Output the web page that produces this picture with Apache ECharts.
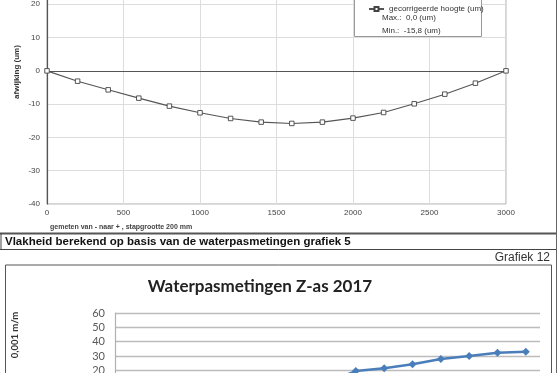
<!DOCTYPE html>
<html>
<head>
<meta charset="utf-8">
<script src="https://cdn.jsdelivr.net/npm/echarts@6/dist/echarts.min.js"></script>
<style>
html,body{margin:0;padding:0;background:#fff;overflow:hidden;width:560px;height:373px;position:relative}
#main{position:absolute;left:0;top:-40px;width:560px;height:480px}
</style>
</head>
<body>
<div id="main"></div>
<script>
// grafiek 5: gecorrigeerde hoogte, stap 200 mm
var posities = [0,200,400,600,800,1000,1200,1400,1600,1800,2000,2200,2400,2600,2800,3000];
var hoogte = [0,-3.1,-5.7,-8.2,-10.6,-12.6,-14.3,-15.4,-15.8,-15.4,-14.2,-12.5,-9.9,-7.0,-3.7,0.0];

// grafiek 12: waterpasmetingen Z-as 2017 (onderste deel valt buiten beeld)
var metingen = ['1','2','3','4','5','6','7','8','9','10','11','12','13','14','15'];
var zAs = [0,2,4,5,7,8,10,12,19.5,21.4,24.2,27.9,30,32.2,33];

var arial = 'Liberation Sans, Arial, sans-serif';
var calibri = 'Lato, Open Sans, sans-serif';
var OY = 40; // de grafiek begint 40px boven het beeld

var lijn5 = [];
for (var i = 0; i < posities.length; i++) {
	lijn5.push([posities[i], hoogte[i]]);
}

var myChart = echarts.init(document.getElementById('main'));
var option = {
	animation: false,
	backgroundColor: '#fff',
	grid: [
		{left: 47, right: 54, top: 11, bottom: 236, show: true, borderColor: '#aaa', borderWidth: 1},
		{left: 115, right: 20, top: 353, bottom: 41}
	],
	legend: {
		data: ['gecorrigeerde hoogte (um)'],
		left: 363, top: OY,
		itemWidth: 15, itemHeight: 5,
		textStyle: {fontSize: 8, color: '#333', fontFamily: arial},
		z: 6
	},
	xAxis: [
		{
			type: 'value', gridIndex: 0, min: 0, max: 3000, interval: 500,
			axisLine: {onZero: true, lineStyle: {color: '#555', width: 1.2}},
			axisTick: {show: false},
			axisLabel: {fontSize: 8, color: '#444', margin: 5, fontFamily: arial,
				formatter: function (v) { return String(v); }},
			splitLine: {show: true, lineStyle: {color: '#ddd'}}
		},
		{
			type: 'category', gridIndex: 1, data: metingen, boundaryGap: true,
			axisLine: {show: false}, axisTick: {show: false}, axisLabel: {show: false}
		}
	],
	yAxis: [
		{
			type: 'value', gridIndex: 0, min: -40, max: 30, interval: 10,
			axisLine: {show: true, onZero: false, lineStyle: {color: '#555', width: 1.2}},
			axisTick: {show: false},
			axisLabel: {fontSize: 8, color: '#444', margin: 7, fontFamily: arial},
			splitLine: {lineStyle: {color: '#ddd'}}
		},
		{
			type: 'value', gridIndex: 1, min: 0, max: 60, interval: 10,
			axisLine: {show: true, lineStyle: {color: '#b0b0b0', width: 1.2}},
			axisTick: {show: false},
			axisLabel: {fontSize: 11, color: '#595959', margin: 10, fontFamily: calibri},
			splitLine: {lineStyle: {color: '#bcbcbc', width: 1.3}}
		}
	],
	series: [
		{
			name: 'gecorrigeerde hoogte (um)',
			type: 'line', xAxisIndex: 0, yAxisIndex: 0,
			data: lijn5,
			symbol: 'rect', symbolSize: 4.5,
			lineStyle: {color: '#555', width: 1.1},
			itemStyle: {color: '#fff', borderColor: '#444', borderWidth: 0.9}
		},
		{
			name: 'Z-as 2017',
			type: 'line', xAxisIndex: 1, yAxisIndex: 1,
			data: zAs,
			symbol: 'diamond', symbolSize: 8,
			lineStyle: {color: '#4a7ebb', width: 2.5},
			itemStyle: {color: '#4a7ebb'}
		}
	],
	graphic: [
		{type: 'rect', z: 3, shape: {x: 354.5, y: OY - 5, width: 127, height: 41.5},
			style: {fill: '#fff', stroke: '#999', lineWidth: 1}},
		{type: 'text', z: 6, x: 382, y: OY + 18, style: {text: 'Max.:  0,0 (um)', font: '8px ' + arial, fill: '#333', verticalAlign: 'middle'}},
		{type: 'text', z: 6, x: 382, y: OY + 31, style: {text: 'Min.:  -15,8 (um)', font: '8px ' + arial, fill: '#333', verticalAlign: 'middle'}},
		{type: 'text', z: 6, x: 17, y: OY + 72, rotation: Math.PI / 2,
			style: {text: 'afwijking (um)', font: 'bold 8px ' + arial, fill: '#333', align: 'center', verticalAlign: 'middle'}},
		{type: 'text', z: 6, x: 50, y: OY + 227,
			style: {text: 'gemeten van - naar + , stapgrootte 200 mm', font: 'bold 7px ' + arial, fill: '#444', verticalAlign: 'middle'}},
		// kader van het document
		{type: 'line', z: 5, shape: {x1: 0, y1: OY + 233.5, x2: 557, y2: OY + 233.5}, style: {stroke: '#555', lineWidth: 2}},
		{type: 'line', z: 5, shape: {x1: 0, y1: OY + 249.5, x2: 557, y2: OY + 249.5}, style: {stroke: '#444', lineWidth: 1}},
		{type: 'line', z: 5, shape: {x1: 1, y1: OY + 233, x2: 1, y2: OY + 250}, style: {stroke: '#444', lineWidth: 1}},
		{type: 'line', z: 5, shape: {x1: 556.5, y1: 0, x2: 556.5, y2: 480}, style: {stroke: '#666', lineWidth: 1}},
		{type: 'text', z: 6, x: 5, y: OY + 242,
			style: {text: 'Vlakheid berekend op basis van de waterpasmetingen grafiek 5', font: 'bold 11.5px ' + arial, fill: '#111', verticalAlign: 'middle'}},
		{type: 'text', z: 6, x: 550, y: OY + 257.5,
			style: {text: 'Grafiek 12', font: '12px ' + arial, fill: '#333', align: 'right', verticalAlign: 'middle'}},
		{type: 'rect', z: 5, shape: {x: 5.5, y: OY + 265, width: 546, height: 200},
			style: {fill: 'none', stroke: '#555', lineWidth: 1}},
		{type: 'text', z: 6, x: 260, y: OY + 287,
			style: {text: 'Waterpasmetingen Z-as 2017', font: 'bold 17px ' + calibri, fill: '#222', align: 'center', verticalAlign: 'middle'}},
		{type: 'text', z: 6, x: 15, y: OY + 335, rotation: Math.PI / 2,
			style: {text: '0,001 m/m', font: 'bold 9.5px ' + calibri, fill: '#333', align: 'center', verticalAlign: 'middle'}}
	]
};
myChart.setOption(option);
</script>
</body>
</html>
